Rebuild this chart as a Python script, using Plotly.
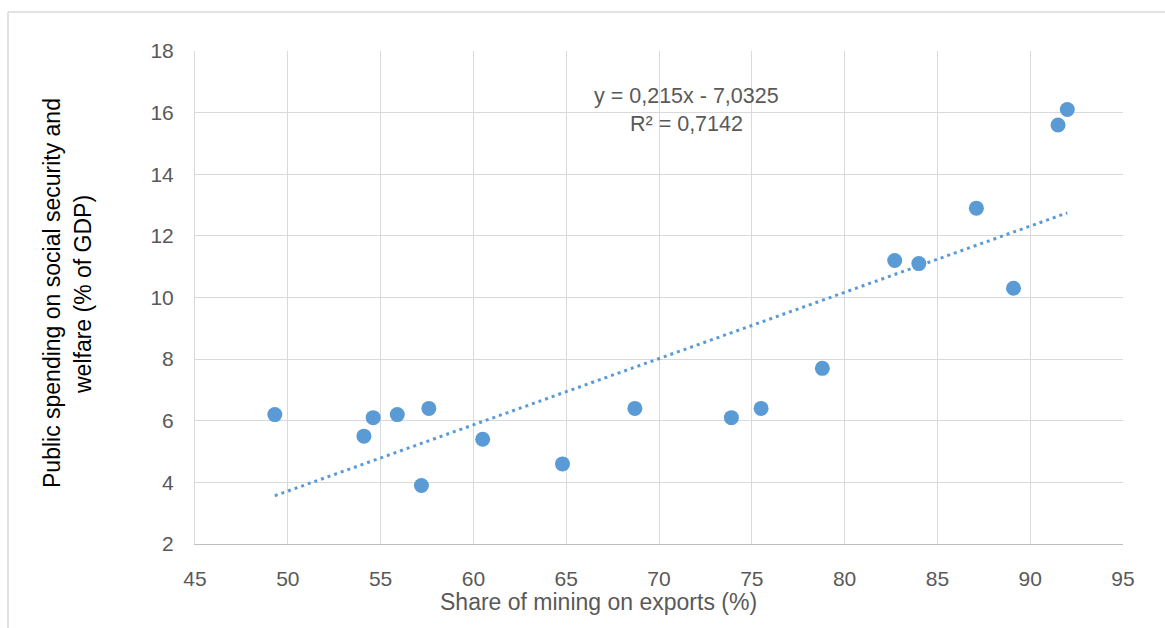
import plotly.graph_objects as go

# Data
mining_share = [49.3, 54.1, 54.6, 55.9, 57.2, 57.6, 60.5, 64.8, 68.7, 73.9,
                75.5, 78.8, 82.7, 84.0, 87.1, 89.1, 91.5, 92.0]
social_spending = [6.2, 5.5, 6.1, 6.2, 3.9, 6.4, 5.4, 4.6, 6.4, 6.1,
                   6.4, 7.7, 11.2, 11.1, 12.9, 10.3, 15.6, 16.1]
trend_slope = 0.215
trend_intercept = -7.0325
r_squared = 0.7142
x_ticks = [45, 50, 55, 60, 65, 70, 75, 80, 85, 90, 95]
y_ticks = [2, 4, 6, 8, 10, 12, 14, 16, 18]

BLUE = "#5B9BD5"
GREY_TXT = "#595959"
GRID = "#D9D9D9"
FONT = "Liberation Sans"

x_lo, x_hi = min(mining_share), max(mining_share)
trend_x = [x_lo, x_hi]
trend_y = [trend_slope * v + trend_intercept for v in trend_x]

fig = go.Figure()
fig.add_trace(go.Scatter(
    x=trend_x, y=trend_y, mode="lines",
    line=dict(color=BLUE, width=3, dash="3px,4px"),
    hoverinfo="skip", showlegend=False))
fig.add_trace(go.Scatter(
    x=mining_share, y=social_spending, mode="markers",
    marker=dict(color=BLUE, size=15, line=dict(width=0)),
    showlegend=False))

def fmt(v, nd):
    return f"{v:.{nd}f}".replace(".", ",")

eq_text = f"y = {fmt(trend_slope,3)}x - {fmt(-trend_intercept,4)}"
r2_text = f"R² = {fmt(r_squared,4)}"

W, H = 1165, 628
L, R, T, B = 195, 42, 51, 84
pw, ph = W - L - R, H - T - B

def px_x(p):
    return (p - L) / pw

def px_y(p):
    return (H - B - p) / ph

annotations = [
    dict(x=71.5, y=16.54, xref="x", yref="y", text=eq_text, showarrow=False,
         font=dict(family=FONT, size=21.5, color=GREY_TXT), xanchor="center", yanchor="middle"),
    dict(x=71.5, y=15.63, xref="x", yref="y", text=r2_text, showarrow=False,
         font=dict(family=FONT, size=21.5, color=GREY_TXT), xanchor="center", yanchor="middle"),
    dict(x=px_x(598), y=px_y(602), xref="paper", yref="paper",
         text="Share of mining on exports (%)", showarrow=False,
         font=dict(family=FONT, size=23, color=GREY_TXT), xanchor="center", yanchor="middle"),
    dict(x=px_x(52), y=px_y(293), xref="paper", yref="paper",
         text="Public spending on social security and", showarrow=False, textangle=-90,
         font=dict(family=FONT, size=23, color="#000000"), xanchor="center", yanchor="middle"),
    dict(x=px_x(83), y=px_y(295), xref="paper", yref="paper",
         text="welfare (% of GDP)", showarrow=False, textangle=-90,
         font=dict(family=FONT, size=23, color="#000000"), xanchor="center", yanchor="middle"),
]

shapes = [
    dict(type="line", xref="paper", yref="paper", x0=px_x(8), x1=px_x(1170),
         y0=px_y(12), y1=px_y(12), line=dict(color=GRID, width=1.5)),
    dict(type="line", xref="paper", yref="paper", x0=px_x(8), x1=px_x(8),
         y0=px_y(12), y1=px_y(640), line=dict(color=GRID, width=1.5)),
]

fig.update_layout(
    width=W, height=H,
    margin=dict(l=L, r=R, t=T, b=B, pad=0),
    paper_bgcolor="white", plot_bgcolor="white",
    font=dict(family=FONT, color=GREY_TXT),
    annotations=annotations, shapes=shapes,
    xaxis=dict(range=[45, 95], tickvals=x_ticks, showgrid=True, gridcolor=GRID, gridwidth=1,
               zeroline=False, showline=True, linecolor="#BFBFBF", linewidth=1, mirror=False,
               ticks="", tickfont=dict(family=FONT, size=21, color=GREY_TXT),
               ticklabelstandoff=16),
    yaxis=dict(range=[2, 18], tickvals=y_ticks, showgrid=True, gridcolor=GRID, gridwidth=1,
               zeroline=False, showline=True, linecolor=GRID, linewidth=1,
               ticks="", tickfont=dict(family=FONT, size=21, color=GREY_TXT),
               ticklabelstandoff=16),
)

fig.write_html("out.html")
